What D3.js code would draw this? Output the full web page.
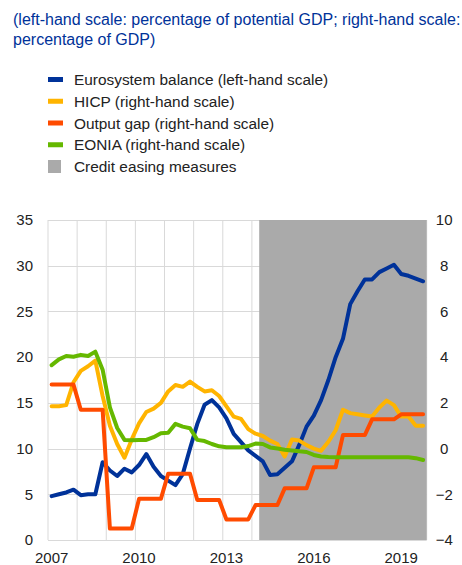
<!DOCTYPE html>
<html>
<head>
<meta charset="utf-8">
<script src="https://cdn.jsdelivr.net/npm/d3@7"></script>
<style>
  html, body { margin: 0; padding: 0; background: #fff; }
  svg { display: block; font-family: "Liberation Sans", Arial, sans-serif; }
</style>
</head>
<body>
<svg id="chart" width="462" height="565"></svg>
<script>
// ---------- DATA ----------
const years = [2007, 2008, 2009, 2010, 2011, 2012, 2013, 2014, 2015, 2016, 2017, 2018, 2019];
const quarters = ["Q1", "Q2", "Q3", "Q4"];
const yearTickLabels = ["2007", "2010", "2013", "2016", "2019"];
const leftTicks = [0, 5, 10, 15, 20, 25, 30, 35];
const rightTicks = [-4, -2, 0, 2, 4, 6, 8, 10];

// Eurosystem balance (% of potential GDP, left-hand scale), quarterly 2007Q1–2019Q4
const eurosystemBalance = [
  4.8, 5.0, 5.2, 5.5,
  4.9, 5.0, 5.0, 8.5,
  7.6, 7.0, 7.8, 7.4,
  8.2, 9.4, 8.0, 7.0,
  6.5, 6.0, 7.2, 10.0,
  12.7, 14.8, 15.3, 14.5,
  13.3, 11.6, 10.7, 9.8,
  9.2, 8.6, 7.1, 7.2,
  7.9, 8.6, 10.4, 12.4,
  13.6, 15.3, 17.5, 20.0,
  22.0, 25.8, 27.2, 28.5,
  28.5, 29.3, 29.7, 30.1,
  29.1, 28.9, 28.6, 28.3
];
// HICP (%, right-hand scale)
const hicp = [
  1.85, 1.85, 1.9, 2.9,
  3.4, 3.6, 3.85, 2.3,
  1.0, 0.2, -0.4, 0.4,
  1.1, 1.6, 1.75, 2.0,
  2.5, 2.78, 2.7, 2.93,
  2.7, 2.5, 2.55, 2.3,
  1.85, 1.4, 1.3, 0.85,
  0.65, 0.55, 0.35, 0.2,
  -0.35, 0.4, 0.35, 0.15,
  0.0, -0.1, 0.3, 0.8,
  1.7, 1.55, 1.5, 1.45,
  1.4, 1.8, 2.1, 1.9,
  1.4, 1.4, 1.0, 1.0
];
// Output gap (%, right-hand scale)
const outputGap = [
  2.8, 2.8, 2.8, 2.8,
  1.7, 1.7, 1.7, 1.7,
  -3.5, -3.5, -3.5, -3.5,
  -2.2, -2.2, -2.2, -2.2,
  -1.1, -1.1, -1.1, -1.1,
  -2.25, -2.25, -2.25, -2.25,
  -3.1, -3.1, -3.1, -3.1,
  -2.47, -2.47, -2.47, -2.47,
  -1.74, -1.74, -1.74, -1.74,
  -0.82, -0.82, -0.82, -0.82,
  0.59, 0.59, 0.59, 0.59,
  1.28, 1.28, 1.28, 1.28,
  1.5, 1.5, 1.5, 1.5
];
// EONIA (%, right-hand scale)
const eonia = [
  3.65, 3.9, 4.05, 4.02,
  4.1, 4.05, 4.24, 3.45,
  1.8, 0.9, 0.38, 0.36,
  0.38, 0.38, 0.5, 0.67,
  0.69, 1.08, 0.96, 0.89,
  0.38, 0.33, 0.2, 0.1,
  0.06, 0.06, 0.06, 0.11,
  0.22, 0.2, 0.05, 0.0,
  -0.05, -0.08, -0.12, -0.15,
  -0.28, -0.35, -0.37, -0.38,
  -0.38, -0.38, -0.38, -0.38,
  -0.38, -0.38, -0.38, -0.38,
  -0.38, -0.38, -0.42, -0.5
];
const creditEasingPeriod = ["2014Q2", "2019Q4"];

const titleLines = [
  "(left-hand scale: percentage of potential GDP; right-hand scale:",
  "percentage of GDP)"
];
const legendLabels = [
  "Eurosystem balance (left-hand scale)",
  "HICP (right-hand scale)",
  "Output gap (right-hand scale)",
  "EONIA (right-hand scale)",
  "Credit easing measures"
];
const colors = {
  blue: "#003299",
  yellow: "#FFB400",
  red: "#FF4B00",
  green: "#65B800",
  gray: "#AAAAAA",
  grid: "#D9D9D9",
  title: "#003299",
  text: "#222222"
};

// ---------- CHART ----------
const categories = [];
years.forEach(y => quarters.forEach(q => categories.push(y + q)));

const svg = d3.select("#chart");
const plot = { left: 48, right: 426.7, top: 220, bottom: 540 };

const x = d3.scaleBand().domain(categories).range([plot.left, plot.right]).paddingInner(0).paddingOuter(0);
const xc = d => x(d) + x.bandwidth() / 2;
const yL = d3.scaleLinear().domain([0, 35]).range([plot.bottom, plot.top]);
const yR = d3.scaleLinear().domain([-4, 10]).range([plot.bottom, plot.top]);

// Title
svg.append("g").selectAll("text").data(titleLines).join("text")
  .attr("x", 13).attr("y", (d, i) => 25 + i * 19.5)
  .attr("fill", colors.title).attr("font-size", 16).text(d => d);

// Legend
const legendColors = [colors.blue, colors.yellow, colors.red, colors.green, colors.gray];
const lg = svg.append("g");
legendLabels.forEach((lab, i) => {
  const cy = 79.5 + i * 21.75;
  if (i < 4) {
    lg.append("rect").attr("x", 48).attr("y", cy - 2.5).attr("width", 15).attr("height", 5).attr("fill", legendColors[i]);
  } else {
    lg.append("rect").attr("x", 48).attr("y", cy - 6.5).attr("width", 13).attr("height", 13).attr("fill", legendColors[i]);
  }
  lg.append("text").attr("x", 74).attr("y", cy + 5.5).attr("font-size", 15.4).attr("fill", colors.text).text(lab);
});

// Grid: horizontal
const grid = svg.append("g");
grid.selectAll("line.h").data(leftTicks).join("line")
  .attr("x1", plot.left).attr("x2", plot.right)
  .attr("y1", d => Math.round(yL(d)) + 0.5).attr("y2", d => Math.round(yL(d)) + 0.5)
  .attr("stroke", colors.grid).attr("stroke-width", 1);
// Grid: vertical at each year boundary
const yearStarts = years.map(y => x(y + "Q1")).concat([plot.right]);
grid.selectAll("line.v").data(yearStarts).join("line")
  .attr("x1", d => d).attr("x2", d => d)
  .attr("y1", plot.top).attr("y2", plot.bottom)
  .attr("stroke", colors.grid).attr("stroke-width", 1);

// Credit easing shading
svg.append("rect")
  .attr("x", x(creditEasingPeriod[0]))
  .attr("y", plot.top)
  .attr("width", x(creditEasingPeriod[1]) + x.bandwidth() - x(creditEasingPeriod[0]))
  .attr("height", plot.bottom - plot.top)
  .attr("fill", colors.gray);

// Lines
const lineL = d3.line().x((d, i) => xc(categories[i])).y(d => yL(d));
const lineR = d3.line().x((d, i) => xc(categories[i])).y(d => yR(d));
const series = [
  { data: eurosystemBalance, gen: lineL, color: colors.blue },
  { data: hicp, gen: lineR, color: colors.yellow },
  { data: outputGap, gen: lineR, color: colors.red },
  { data: eonia, gen: lineR, color: colors.green }
];
svg.append("g").selectAll("path").data(series).join("path")
  .attr("d", d => d.gen(d.data))
  .attr("fill", "none").attr("stroke", d => d.color)
  .attr("stroke-width", 4).attr("stroke-linejoin", "round").attr("stroke-linecap", "round");

// Axes labels
const axL = d3.axisLeft(yL).tickValues(leftTicks).tickSize(0).tickPadding(15);
const gL = svg.append("g").attr("transform", `translate(${plot.left},0)`).call(axL);
gL.select(".domain").remove();
gL.selectAll("text").attr("font-size", 15).attr("fill", colors.text).attr("font-family", "Liberation Sans, Arial, sans-serif");

const axR = d3.axisRight(yR).tickValues(rightTicks).tickSize(0).tickPadding(17);
const gR = svg.append("g").attr("transform", `translate(${plot.right},0)`).call(axR);
gR.select(".domain").remove();
gR.selectAll("text").attr("font-size", 15).attr("fill", colors.text).attr("text-anchor", "middle")
  .attr("x", 17.5).attr("font-family", "Liberation Sans, Arial, sans-serif");

const axB = d3.axisBottom(x).tickValues(yearTickLabels.map(y => y + "Q1")).tickSize(0).tickPadding(12)
  .tickFormat(d => d.slice(0, 4));
const gB = svg.append("g").attr("transform", `translate(0,${plot.bottom})`).call(axB);
gB.select(".domain").remove();
gB.selectAll("text").attr("font-size", 15).attr("fill", colors.text).attr("font-family", "Liberation Sans, Arial, sans-serif");
</script>
</body>
</html>
